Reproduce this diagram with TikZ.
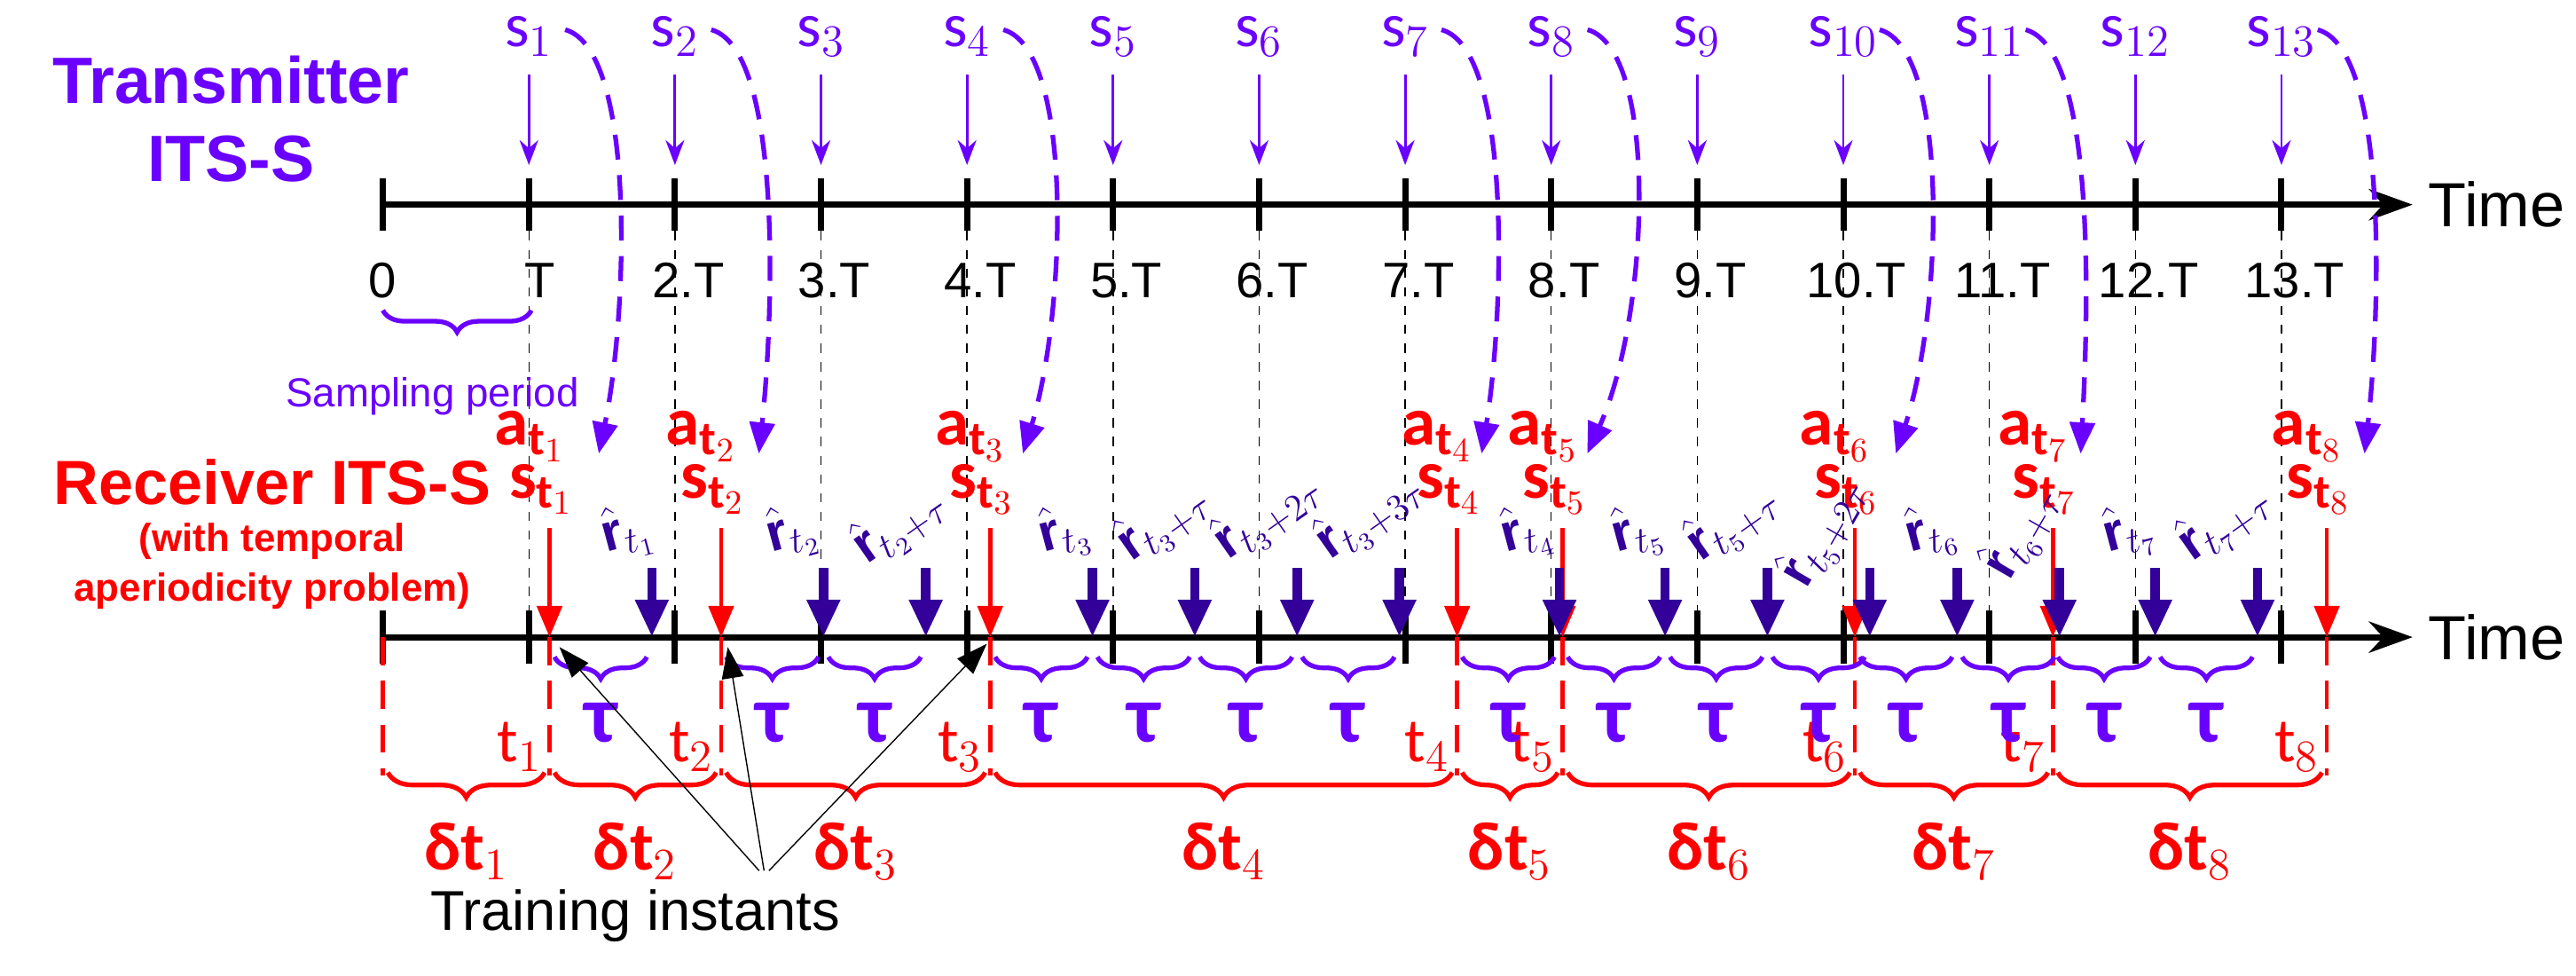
\documentclass[tikz,border=0pt]{standalone}
\usepackage{amsmath}
\usepackage{fontspec}
\setmainfont{Liberation Sans}
\newfontfamily\carlito{Carlito}
\usetikzlibrary{arrows.meta, decorations.pathreplacing, calc}
\definecolor{tx}{HTML}{6A00FF}
\definecolor{rdark}{HTML}{330099}
\definecolor{rx}{HTML}{FF0000}
\tikzset{
  axis/.style={line width=2pt, -{Stealth[length=14pt,width=10pt]}},
  tick/.style={line width=2pt},
  sarrow/.style={tx, thick, -{Stealth[length=8pt]}},
  aarrow/.style={rx, line width=1.3pt, -{Triangle[length=10pt,width=8pt]}},
  rarrow/.style={rdark, line width=3pt, -{Triangle[length=12pt,width=10pt]}},
  curv/.style={tx, line width=1.5pt, dashed, dash pattern=on 8pt off 5pt, -{Triangle[length=10pt,width=8pt]}},
  tbrace/.style={tx, line width=1.5pt, decorate, decoration={brace, mirror, amplitude=7pt}},
  dbrace/.style={rx, line width=1.5pt, decorate, decoration={brace, mirror, amplitude=8pt}},
  tau/.style={tx, font=\carlito\bfseries\fontsize{26}{26}\selectfont},
  rlab/.style={rdark, font=\fontsize{17}{17}\selectfont, inner sep=0pt},
  rxlab/.style={rx, font=\carlito\bfseries\fontsize{22}{22}\selectfont, inner sep=0pt}
}
\begin{document}
\begin{tikzpicture}[x=0.0186cm, y=-0.0186cm]
\useasboundingbox (0,0) rectangle (1561,591);
% titles
\node[tx, font=\bfseries\fontsize{21}{25}\selectfont, align=center] (txname) at (140,72) {Transmitter\\ITS-S};
\node[rx, font=\bfseries\fontsize{20}{22}\selectfont] (rxname) at (165,292) {Receiver ITS-S};
\node[rx, font=\bfseries\fontsize{12.5}{16}\selectfont, align=center] (rxnote) at (165,343) {(with temporal\\aperiodicity problem)};
% axes
\coordinate (ta0) at (232,124);
\coordinate (ta1) at (1462,124);
\coordinate (ra0) at (232,386);
\coordinate (ra1) at (1462,386);
\draw[axis] (ta0) -- (ta1);
\draw[axis] (ra0) -- (ra1);
\node[font=\fontsize{20}{20}\selectfont, anchor=west] (time1) at (1465,124) {Time};
\node[font=\fontsize{20}{20}\selectfont, anchor=west] (time2) at (1465,386) {Time};
% ticks, labels, sampling arrows
\foreach \k in {0,...,13} {
  \draw[tick] ({232+88.5*\k},108) -- ({232+88.5*\k},140);
  \draw[tick] ({232+88.5*\k},370) -- ({232+88.5*\k},402);
}
\node[font=\fontsize{16}{16}\selectfont] (l0) at (232,170) {0};
\node[font=\fontsize{16}{16}\selectfont] (l1) at (327,170) {T};
\foreach \k in {2,...,13}
  \node[font=\fontsize{16}{16}\selectfont] (l\k) at ({232+88.5*\k+8},170) {\k.T};
\foreach \k in {1,...,13} {
  \node[tx, font=\carlito\fontsize{20}{20}\selectfont] (s\k) at ({232+88.5*\k},22) {s$_{\k}$};
  \draw[sarrow] ({232+88.5*\k},45) -- ({232+88.5*\k},100);
  \draw[dashed, thin] ({232+88.5*\k},140) -- ({232+88.5*\k},370);
}
% sampling period
\draw[tbrace] (232,188) -- (322,188);
\node[tx, font=\fontsize{13}{13}\selectfont] (sp) at (262,240) {Sampling period};
% receiver instants
\def\tlist{333/1,437/2,600/3,883/4,947/5,1124/6,1244/7,1410/8}
\coordinate (t0) at (232,386);
\foreach \x/\i in \tlist {
  \coordinate (t\i) at (\x,386);
  \draw[aarrow] (\x,320) -- (t\i);
  \draw[rx, line width=1.3pt, dashed, dash pattern=on 9pt off 5pt] (t\i) -- (\x,470);
  \node[rxlab, anchor=south] (a\i) at (\x-12,280) {a$_{\text{t}_{\i}}$};
  \node[rxlab, anchor=south] (st\i) at (\x-5,312) {s$_{\text{t}_{\i}}$};
  \node[rx, font=\carlito\fontsize{20}{20}\selectfont, anchor=south east] (tl\i) at (\x+2,474) {t$_{\i}$};
}
\draw[rx, line width=1.3pt, dashed, dash pattern=on 9pt off 5pt] (t0) -- (232,470);
% delta braces
\foreach \a/\b/\i in {t0/t1/1,t1/t2/2,t2/t3/3,t3/t4/4,t4/t5/5,t5/t6/6,t6/t7/7,t7/t8/8} {
  \draw[dbrace] ($(\a)+(3,82)$) -- ($(\b)+(-3,82)$) node[midway, below=12pt, font=\carlito\bfseries\fontsize{22}{22}\selectfont, rx] (dt\i) {δt$_{\i}$};
}
% tau steps and estimates
\foreach \x/\n in {333/1,437/2,600/4,883/1,947/3,1124/2,1244/2} {
  \foreach \j in {1,...,\n} {
    \draw[tbrace] ({\x+62*(\j-1)+3},398) -- ({\x+62*\j-3},398);
    \node[tau] at ({\x+62*\j-31},438) {τ};
    \draw[rarrow] ({\x+62*\j},344) -- ({\x+62*\j},386);
  }
}
% estimate labels
\node[rlab, rotate=15] (r1) at (380,322) {$\hat{\mathbf r}_{t_1}$};
\node[rlab, rotate=15] (r2) at (480,322) {$\hat{\mathbf r}_{t_2}$};
\node[rlab, rotate=35] (r3) at (545,318) {$\hat{\mathbf r}_{t_2+\tau}$};
\node[rlab, rotate=15] (r4) at (645,322) {$\hat{\mathbf r}_{t_3}$};
\node[rlab, rotate=35] (r5) at (705,316) {$\hat{\mathbf r}_{t_3+\tau}$};
\node[rlab, rotate=35] (r6) at (768,312) {$\hat{\mathbf r}_{t_3+2\tau}$};
\node[rlab, rotate=35] (r7) at (830,312) {$\hat{\mathbf r}_{t_3+3\tau}$};
\node[rlab, rotate=15] (r8) at (925,322) {$\hat{\mathbf r}_{t_4}$};
\node[rlab, rotate=15] (r9) at (992,322) {$\hat{\mathbf r}_{t_5}$};
\node[rlab, rotate=35] (r10) at (1050,316) {$\hat{\mathbf r}_{t_5+\tau}$};
\node[rlab, rotate=60] (r11) at (1105,322) {$\hat{\mathbf r}_{t_5+2\tau}$};
\node[rlab, rotate=15] (r12) at (1170,322) {$\hat{\mathbf r}_{t_6}$};
\node[rlab, rotate=60] (r13) at (1225,322) {$\hat{\mathbf r}_{t_6+\tau}$};
\node[rlab, rotate=15] (r14) at (1290,322) {$\hat{\mathbf r}_{t_7}$};
\node[rlab, rotate=35] (r15) at (1348,316) {$\hat{\mathbf r}_{t_7+\tau}$};
% delivery curves
\foreach \k/\i/\dx in {1/1/35,2/2/28,4/3/25,7/4/20,8/5/20,10/6/30,11/7/22,13/8/28} {
  \draw[curv] ({232+88.5*\k+22},18) .. controls ({232+88.5*\k+65},30) and ({232+88.5*\k+60},190) .. ($(st\i.north east)+(\dx-20,-6)$);
}
% training instants
\node[font=\fontsize{18}{18}\selectfont] (train) at (385,555) {Training instants};
\draw[-{Triangle[length=10pt,width=7pt]}] ($(train.north)+(75,-5)$) -- ($(t1)+(6,6)$);
\draw[-{Triangle[length=10pt,width=7pt]}] ($(train.north)+(78,-5)$) -- ($(t2)+(4,6)$);
\draw[-{Triangle[length=10pt,width=7pt]}] ($(train.north)+(81,-5)$) -- ($(t3)+(-2,4)$);
\end{tikzpicture}
\end{document}
